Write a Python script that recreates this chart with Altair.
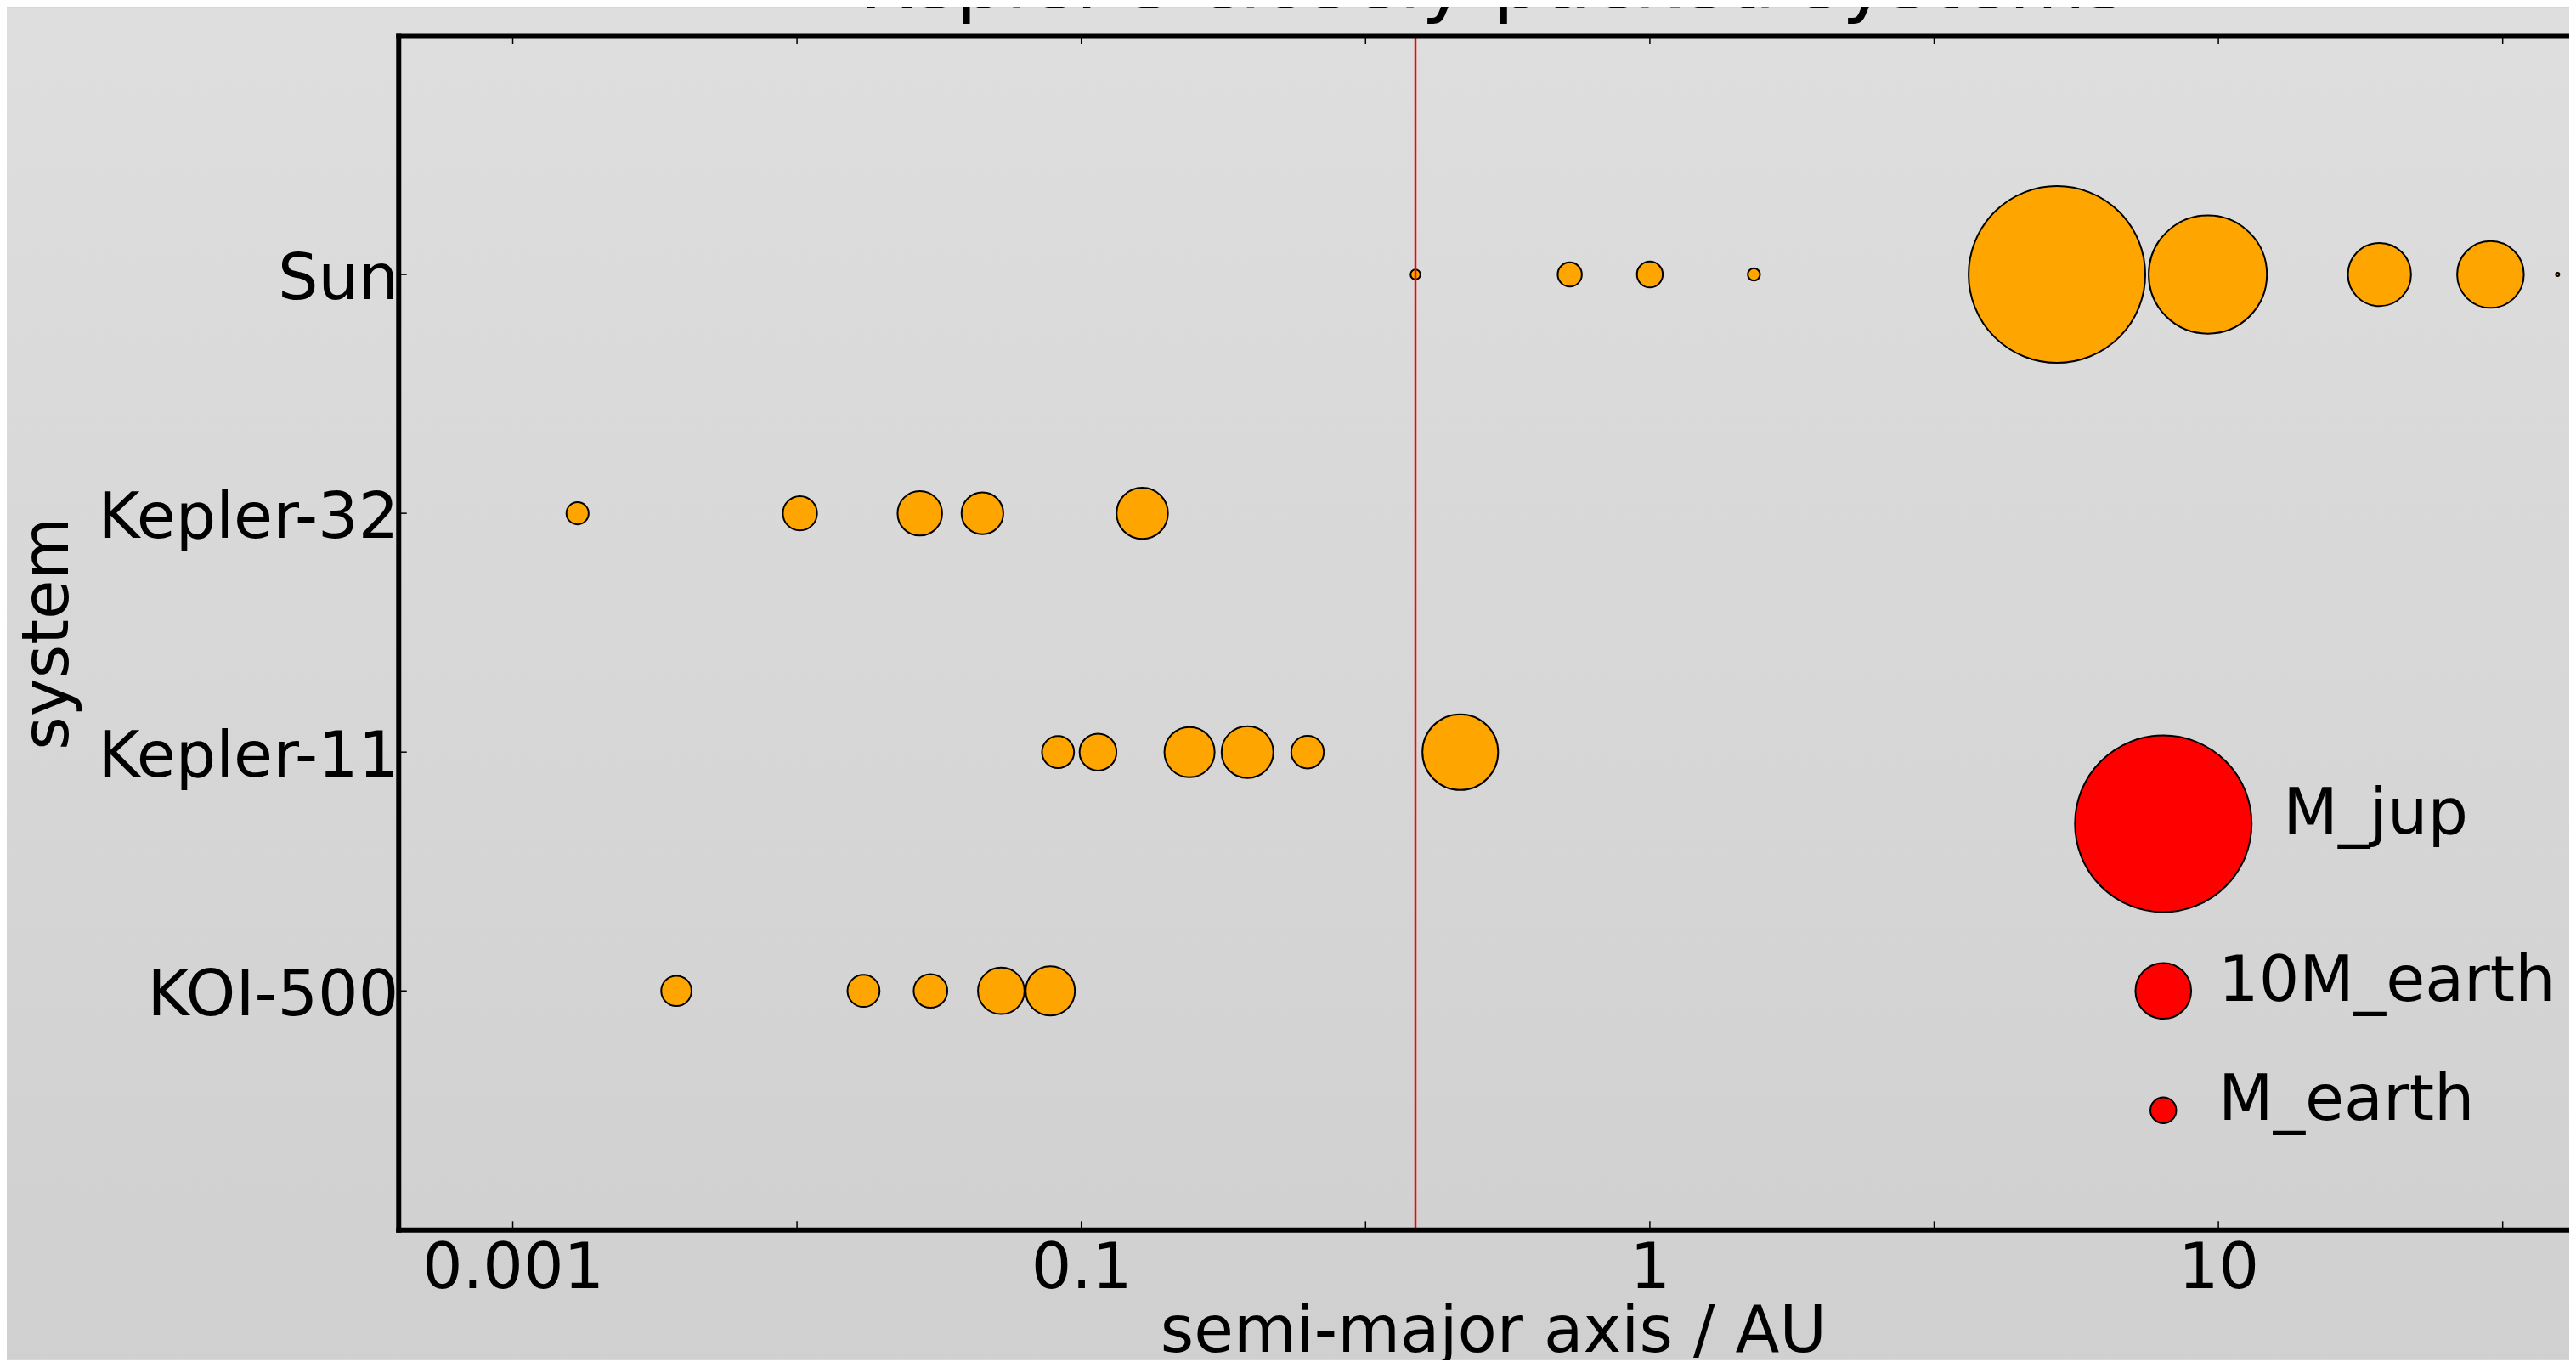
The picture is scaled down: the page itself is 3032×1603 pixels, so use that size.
import altair as alt
import pandas as pd

# ---------------- data ----------------
chart_title = "Kepler's closely packed systems"
systems = ["Sun", "Kepler-32", "Kepler-11", "KOI-500"]
system_rows = [3, 2, 1, 0]

sun_a = [0.387, 0.723, 1.0, 1.524, 5.20, 9.58, 19.2, 30.1, 39.5]
sun_m = [0.055, 0.815, 1.0, 0.107, 317.8, 95.2, 14.5, 17.1, 0.0022]
k32_a = [0.013, 0.032, 0.052, 0.067, 0.128]
k32_m = [0.63, 2.3, 5.1, 4.2, 7.8]
k11_a = [0.091, 0.107, 0.155, 0.196, 0.25, 0.464]
k11_m = [1.9, 2.9, 7.3, 8.0, 2.0, 25.0]
koi_a = [0.0194, 0.0414, 0.0543, 0.0723, 0.0882]
koi_m = [1.6, 1.9, 2.2, 5.8, 6.9]

legend_labels = ["M_jup", "10M_earth", "M_earth"]
legend_m = [317.8, 10, 1]
legend_x = [8, 8, 8]
legend_row = [0.7, 0, -0.5]
legend_text_x = [13, 10, 10]

mercury_a = 0.387

x_tick_values = [0.01, 0.1, 1, 10]
x_tick_labels = ["0.001", "0.1", "1", "10"]
x_minor_ticks = [0.01, 0.03162, 0.1, 0.3162, 1, 3.162, 10, 31.62]
x_domain = [0.00629, 41.4]
y_domain = [-1, 4]

# ---------------- tables ----------------
rows = []
for name, r, a_list, m_list in zip(systems, system_rows,
                                   [sun_a, k32_a, k11_a, koi_a],
                                   [sun_m, k32_m, k11_m, koi_m]):
    for a, m in zip(a_list, m_list):
        rows.append({"system": name, "row": r, "a": a, "mass": m})
planets = pd.DataFrame(rows)

legend_df = pd.DataFrame({"label": legend_labels, "mass": legend_m,
                          "a": legend_x, "row": legend_row, "tx": legend_text_x})
ticks_df = pd.DataFrame({"a": x_minor_ticks})
yticks_df = pd.DataFrame({"row": system_rows})
rule_df = pd.DataFrame({"a": [mercury_a]})

# ---------------- style ----------------
W, H = 2562, 1409
FONT = "DejaVu Sans"
FS = 75

xscale = alt.Scale(type="log", domain=x_domain, nice=False)
yscale = alt.Scale(domain=y_domain, nice=False, zero=False)
sscale = alt.Scale(type="pow", exponent=2 / 3, domain=[0, 317.8], range=[0, 43472])

x_label_expr = " : ".join(f"datum.value == {v} ? '{l}'" for v, l in zip(x_tick_values, x_tick_labels)) + " : ''"
y_label_expr = " : ".join(f"datum.value == {r} ? '{s}'" for r, s in zip(system_rows, systems)) + " : ''"

bg = alt.Chart(alt.Data(values=[{"k": 1}])).mark_rect(
    fill=alt.LinearGradient(
        gradient="linear", x1=0, x2=0, y1=0, y2=1,
        stops=[alt.GradientStop(color="#dedede", offset=0),
               alt.GradientStop(color="#d0d0d0", offset=1)],
    )
).encode(x=alt.value(-462), x2=alt.value(W), y=alt.value(-32), y2=alt.value(H + 152))

title_txt = alt.Chart(alt.Data(values=[{"t": chart_title}])).mark_text(
    align="center", baseline="alphabetic", font=FONT, fontSize=93, color="black"
).encode(x=alt.value(1292), y=alt.value(-33), text="t:N")

x_axis = alt.Axis(
    orient="bottom", values=x_tick_values, labelExpr=x_label_expr,
    ticks=False, tickSize=0, grid=False, zindex=2,
    domain=True, domainWidth=6, domainColor="black", domainCap="square",
    labelFont=FONT, labelFontSize=FS, labelColor="black", labelPadding=9,
    labelFlush=False, labelOverlap=False, labelLimit=2000,
    title="semi-major axis / AU", titleFont=FONT, titleFontSize=76,
    titleFontWeight="normal", titleColor="black", titleLimit=3000,
    titleX=1292, titleY=144, titleBaseline="alphabetic", titleAlign="center",
)
y_axis = alt.Axis(
    orient="left", values=system_rows, labelExpr=y_label_expr,
    ticks=False, tickSize=0, grid=False, zindex=2,
    domain=True, domainWidth=6, domainColor="black", domainCap="square",
    labelFont=FONT, labelFontSize=FS, labelColor="black", labelPadding=0,
    labelOffset=5, labelAlign="right", labelBaseline="middle",
    labelFlush=False, labelOverlap=False, labelLimit=2000,
    title="system", titleFont=FONT, titleFontSize=76, titleFontWeight="normal",
    titleColor="black", titleAngle=270, titleX=-390, titleY=705, titleLimit=3000,
    titleBaseline="alphabetic", titleAlign="center",
)

pts = alt.Chart(planets).mark_circle(
    fill="orange", stroke="black", strokeWidth=2, opacity=1
).encode(
    x=alt.X("a:Q", scale=xscale, axis=x_axis),
    y=alt.Y("row:Q", scale=yscale, axis=y_axis),
    size=alt.Size("mass:Q", scale=sscale, legend=None),
)

leg_pts = alt.Chart(legend_df).mark_circle(
    fill="red", stroke="black", strokeWidth=2, opacity=1
).encode(
    x=alt.X("a:Q", scale=xscale, axis=None),
    y=alt.Y("row:Q", scale=yscale, axis=None),
    size=alt.Size("mass:Q", scale=sscale, legend=None),
)

leg_txt = alt.Chart(legend_df).mark_text(
    align="left", baseline="alphabetic", dy=11.5, font=FONT, fontSize=FS, color="black"
).encode(
    x=alt.X("tx:Q", scale=xscale, axis=None),
    y=alt.Y("row:Q", scale=yscale, axis=None),
    text="label:N",
)

rule = alt.Chart(rule_df).mark_rule(color="red", strokeWidth=2.5).encode(
    x=alt.X("a:Q", scale=xscale, axis=None)
)

ticks_bottom = alt.Chart(ticks_df).mark_rule(color="black", strokeWidth=1.5).encode(
    x=alt.X("a:Q", scale=xscale, axis=None), y=alt.value(H), y2=alt.value(H - 10)
)
ticks_top = alt.Chart(ticks_df).mark_rule(color="black", strokeWidth=1.5).encode(
    x=alt.X("a:Q", scale=xscale, axis=alt.Axis(
        orient="top", labels=False, ticks=False, tickSize=0, grid=False, zindex=2,
        domain=True, domainWidth=6, domainColor="black", domainCap="square", title=None)),
    y=alt.value(0), y2=alt.value(10),
)
yticks = alt.Chart(yticks_df).mark_rule(color="black", strokeWidth=1.5).encode(
    y=alt.Y("row:Q", scale=yscale, axis=None), x=alt.value(0), x2=alt.value(10)
)

chart = alt.layer(
    bg, title_txt, pts, leg_pts, leg_txt, rule, ticks_bottom, ticks_top, yticks
).resolve_axis(x="independent", y="independent").properties(
    width=W, height=H,
    padding={"left": 462, "top": 32, "right": 0, "bottom": 152},
    autosize=alt.AutoSizeParams(type="none"),
    background="#d7d7d7",
).configure_view(strokeWidth=0)

chart.save("out.html", embed_options={"renderer": "svg", "actions": False})
